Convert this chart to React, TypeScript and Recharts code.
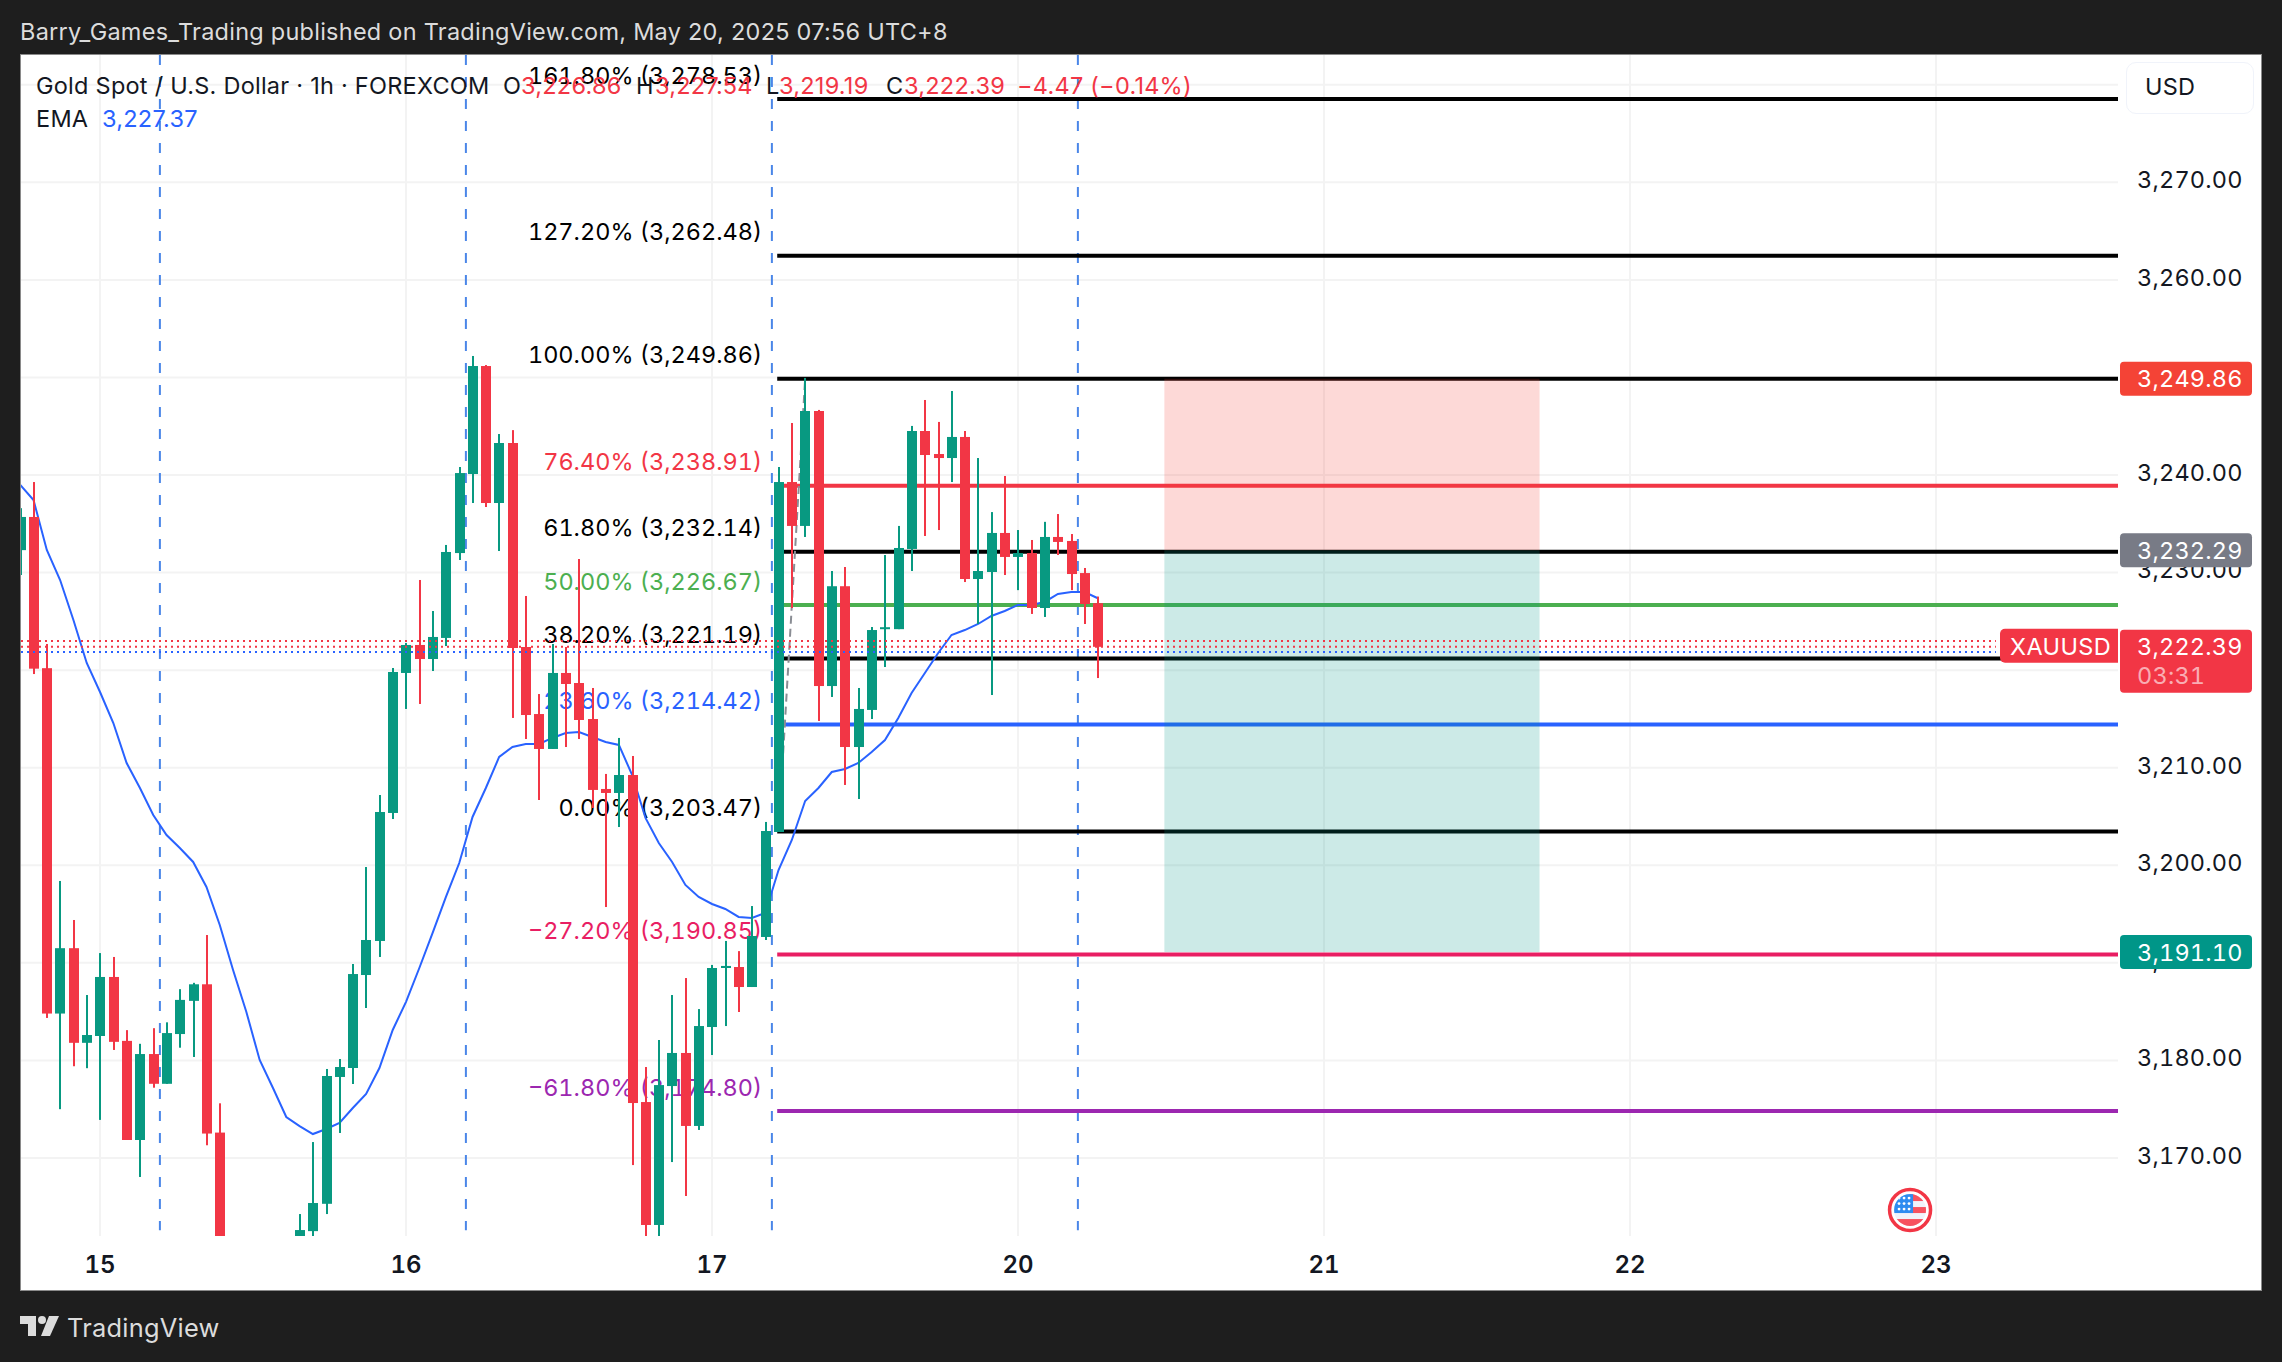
import {
  Bar,
  CartesianGrid,
  ComposedChart,
  Line,
  ReferenceArea,
  ReferenceDot,
  ReferenceLine,
  XAxis,
  YAxis,
} from "recharts";

const FONT = "Inter, 'Noto Sans', sans-serif";
const UP = "#089981";
const DOWN = "#f23645";
const BLUE = "#2962ff";
const STOP = "#f44336";
const TARGET = "#009688";

// hourly candles, index 0 is cut by the left edge; 16-20 sit below the visible range
const opens = [
  3232.3, 3235.7, 3220.2, 3184.8, 3191.5, 3181.8, 3182.5, 3188.55, 3182.0, 3171.84,
  3180.65, 3177.6, 3182.7, 3186.1, 3187.8, 3172.6, 3155, 3153, 3151, 3150,
  3154, 3161.5, 3162.5, 3165.3, 3178.3, 3179.22, 3188.75, 3192.24, 3205.36, 3219.71,
  3222.58, 3221.14, 3223.3, 3232.0, 3240.1, 3251.17, 3237.13, 3243.28, 3222.37, 3215.5,
  3211.92, 3219.71, 3218.68, 3214.99, 3207.82, 3207.41, 3209.25, 3175.73, 3163.13, 3177.37,
  3180.76, 3173.28, 3183.42, 3189.47, 3189.57, 3187.52, 3192.65, 3203.41, 3239.28, 3234.78,
  3246.56, 3218.37, 3228.6, 3212.12, 3215.92, 3224.2, 3224.2, 3232.42, 3244.51, 3242.15,
  3241.74, 3243.9, 3229.34, 3230.06, 3234.06, 3231.6, 3232.0, 3226.37, 3233.65, 3233.24,
  3229.95, 3226.86,
];
const highs = [
  3236.6, 3239.28, 3222.68, 3198.39, 3194.39, 3186.7, 3191.0, 3190.6, 3183.1, 3181.7,
  3183.3, 3183.9, 3187.3, 3187.95, 3192.85, 3175.6, 3158, 3157, 3156, 3155,
  3159, 3164.25, 3171.63, 3179.12, 3180.14, 3189.88, 3199.82, 3207.2, 3220.22, 3222.78,
  3229.24, 3226.06, 3232.83, 3240.82, 3252.2, 3251.27, 3244.2, 3244.6, 3227.6, 3217.55,
  3222.68, 3222.37, 3231.39, 3218.17, 3209.36, 3213.05, 3211.2, 3179.32, 3182.09, 3186.7,
  3188.44, 3185.26, 3189.78, 3192.24, 3191.2, 3195.82, 3204.44, 3240.82, 3245.33, 3249.95,
  3246.67, 3230.16, 3230.57, 3218.17, 3224.42, 3231.8, 3234.78, 3245.03, 3247.69, 3245.44,
  3248.61, 3244.51, 3241.74, 3236.2, 3239.9, 3234.36, 3233.34, 3235.2, 3236.0, 3233.95,
  3230.47, 3227.54,
];
const lows = [
  3229.75, 3219.6, 3184.35, 3175.0, 3179.4, 3179.2, 3173.9, 3181.07, 3171.84, 3168.05,
  3177.2, 3177.6, 3181.3, 3180.35, 3171.3, 3153, 3151, 3149, 3147, 3148,
  3152, 3160, 3161.5, 3164.25, 3172.56, 3177.58, 3185.37, 3190.6, 3204.74, 3216.02,
  3216.53, 3219.91, 3222.47, 3231.29, 3237.13, 3236.72, 3232.21, 3215.1, 3212.94, 3206.69,
  3211.92, 3212.12, 3212.94, 3205.87, 3195.72, 3203.92, 3169.27, 3161.5, 3161.5, 3169.58,
  3166.1, 3172.87, 3180.55, 3183.52, 3184.96, 3187.52, 3192.34, 3203.41, 3226.37, 3233.65,
  3214.79, 3217.25, 3208.23, 3206.79, 3214.99, 3220.32, 3224.2, 3230.16, 3233.75, 3234.36,
  3239.28, 3229.03, 3224.73, 3217.45, 3229.75, 3228.2, 3225.76, 3225.45, 3231.8, 3228.2,
  3224.73, 3219.19,
];
const closes = [
  3235.7, 3220.15, 3184.8, 3191.5, 3181.8, 3182.6, 3188.55, 3181.9, 3171.84, 3180.65,
  3177.6, 3182.8, 3186.2, 3187.8, 3172.5, 3155, 3153, 3151, 3150, 3154,
  3158, 3162.61, 3165.38, 3178.4, 3179.32, 3188.85, 3192.34, 3205.46, 3219.81, 3222.58,
  3221.14, 3223.4, 3232.11, 3240.2, 3251.17, 3237.13, 3243.28, 3222.27, 3215.4, 3211.92,
  3219.71, 3218.58, 3214.89, 3207.72, 3207.41, 3209.25, 3175.63, 3163.13, 3177.47, 3180.76,
  3173.28, 3183.52, 3189.47, 3189.68, 3187.52, 3192.75, 3203.51, 3239.28, 3234.78, 3246.56,
  3218.37, 3228.6, 3212.12, 3216.02, 3224.11, 3224.4, 3232.52, 3244.51, 3242.05, 3241.74,
  3243.9, 3229.34, 3230.16, 3234.06, 3231.6, 3232.0, 3226.37, 3233.65, 3233.14, 3229.85,
  3226.78, 3222.39,
];
const emaValues = [
  3238.98, 3237.44, 3232.32, 3229.24, 3225.14, 3220.73, 3217.76, 3214.58, 3210.48, 3207.92,
  3205.15, 3203.1, 3201.77, 3200.34, 3197.77, 3193.88, 3189.27, 3184.96, 3180.04, 3177.17,
  3174.2, 3173.27, 3172.45, 3172.97, 3173.58, 3175.12, 3176.56, 3179.22, 3183.12, 3186.0,
  3189.47, 3193.06, 3196.75, 3200.23, 3204.95, 3207.92, 3211.1, 3212.12, 3212.43, 3212.43,
  3213.05, 3213.56, 3213.66, 3213.15, 3212.64, 3212.33, 3209.25, 3204.85, 3202.28, 3200.34,
  3197.98, 3196.75, 3196.03, 3195.52, 3194.7, 3194.6, 3195.11, 3199.51, 3202.59, 3206.59,
  3207.92, 3209.56, 3209.87, 3210.48, 3211.61, 3212.84, 3215.1, 3217.66, 3219.71, 3221.76,
  3223.6, 3224.11, 3224.73, 3225.55, 3226.06, 3226.68, 3226.68, 3226.99, 3227.81, 3228.01,
  3228.01, 3227.37,
];

const dayTicks = [6, 29, 52, 75, 98, 121, 144];
const dayLabels = ["15", "16", "17", "20", "21", "22", "23"];
const priceTicks = [3170, 3180, 3190, 3200, 3210, 3220, 3230, 3240, 3250, 3260, 3270, 3280];
const sessionBreaks = [10.5, 33.5, 56.5, 79.5];

const fibLevels = [161.8, 127.2, 100, 76.4, 61.8, 50, 38.2, 23.6, 0, -27.2, -61.8];
const fibPrices = [
  3278.53, 3262.48, 3249.86, 3238.91, 3232.14, 3226.67, 3221.19, 3214.42, 3203.47, 3190.85,
  3174.8,
];
const fibColors = [
  "#000000", "#000000", "#000000", "#f23645", "#000000", "#4caf50", "#000000", "#2962ff",
  "#000000", "#e91e63", "#9c27b0",
];

const X_MIN = 0.06;
const X_MAX = 157.68;
const Y_MIN = 3162;
const Y_MAX = 3283.05;
const FIB_START = 56.9;
const DOTTED_END = 148.5;

const candles = opens.map((open, i) => ({
  i,
  open,
  high: highs[i],
  low: lows[i],
  close: closes[i],
  ema: emaValues[i],
}));

const money = (v: number) =>
  v.toLocaleString("en-US", { minimumFractionDigits: 2, maximumFractionDigits: 2 });
const dayLabel = (v: number) => dayLabels[dayTicks.indexOf(v)] ?? "";
const fibText = (level: number, price: number) =>
  `${level < 0 ? "\u2212" : ""}${Math.abs(level).toFixed(2)}% (${money(price)})`;

function Candle(props: any) {
  const { x, y, width, height, payload } = props;
  const { open, close, high, low } = payload;
  const color = close >= open ? UP : DOWN;
  const perUnit = height / (high - low);
  const bodyTop = y + (high - Math.max(open, close)) * perUnit;
  const bodyHeight = Math.max(2, Math.abs(open - close) * perUnit);
  const mid = Math.round(x + width / 2);
  return (
    <g>
      <rect x={mid - 1} y={y} width={2} height={height} fill={color} />
      <rect x={mid - 5} y={bodyTop} width={10} height={bodyHeight} fill={color} />
    </g>
  );
}

function FibShape({ x1, y1, x2, y2, color, text }: any) {
  return (
    <g>
      <line x1={x1} y1={y1} x2={x2} y2={y2} stroke={color} strokeWidth={4} />
      <text
        x={x1 - 15}
        y={y1 - 24}
        textAnchor="end"
        dominantBaseline="central"
        fill={color}
        fontSize={23.5}
        fontFamily={FONT}
      >
        {text}
      </text>
    </g>
  );
}

function PriceTag({ cx, cy, color, label, extra }: any) {
  const h = extra ? 63 : 34;
  return (
    <g fontFamily={FONT} fontSize={23.5} letterSpacing={0.2}>
      <rect x={cx + 2} y={cy - 17} width={132} height={h} rx={4} fill={color} />
      <text x={cx + 19} y={cy} dominantBaseline="central" fill="#ffffff">
        {label}
      </text>
      {extra && (
        <text x={cx + 19} y={cy + 29} dominantBaseline="central" fill="#ffffff" fillOpacity={0.6}>
          {extra}
        </text>
      )}
    </g>
  );
}

function SymbolTag({ cx, cy }: any) {
  return (
    <g fontFamily={FONT} fontSize={23.5} letterSpacing={0.4}>
      <path
        d={`M${cx} ${cy - 18}h-113a5 5 0 0 0 -5 5v24a5 5 0 0 0 5 5h113z`}
        fill={DOWN}
      />
      <text x={cx - 108} y={cy} dominantBaseline="central" fill="#ffffff">
        XAUUSD
      </text>
    </g>
  );
}

function FlagDot({ cx, cy }: any) {
  const stars: [number, number][] = [];
  for (const dy of [-12, -6.5, -1]) for (const dx of [-11, -6, -1]) stars.push([dx, dy]);
  return (
    <g>
      <circle cx={cx} cy={cy} r={20.5} fill="#ffffff" stroke={DOWN} strokeWidth={3.5} />
      <clipPath id="flag-clip">
        <circle cx={cx} cy={cy} r={16} />
      </clipPath>
      <g clipPath="url(#flag-clip)">
        <rect x={cx - 16} y={cy - 16} width={32} height={32} fill="#f0f3fa" />
        <rect x={cx} y={cy - 16} width={16} height={7} fill="#f7525f" />
        <rect x={cx} y={cy - 3} width={16} height={6} fill="#f7525f" />
        <rect x={cx - 16} y={cy + 9} width={32} height={7} fill="#f7525f" />
        <rect x={cx - 16} y={cy - 16} width={19} height={19} fill="#2e8cf0" />
        {stars.map(([dx, dy], k) => (
          <circle key={k} cx={cx + dx} cy={cy + dy} r={1.4} fill="#ffffff" />
        ))}
      </g>
    </g>
  );
}

const abs = (left: number, top: number, color: string, size = 23.5): React.CSSProperties => ({
  position: "absolute",
  left,
  top,
  color,
  fontSize: size,
  fontFamily: FONT,
  lineHeight: "32px",
  letterSpacing: 0.25,
  whiteSpace: "nowrap",
});

export default function App() {
  return (
    <div
      style={{
        position: "absolute",
        left: 0,
        top: 0,
        width: 2282,
        height: 1362,
        overflow: "hidden",
        background: "#1e1e1e",
      }}
    >
      <div style={abs(20, 16, "#dcdcdc")}>
        Barry_Games_Trading published on TradingView.com, May 20, 2025 07:56 UTC+8
      </div>
      <div
        style={{
          position: "absolute",
          left: 20,
          top: 54,
          width: 2242,
          height: 1237,
          boxSizing: "border-box",
          background: "#ffffff",
          border: "1px solid #8a8a8a",
        }}
      />
      <div style={{ position: "absolute", left: 0, top: 0, fontVariantNumeric: "tabular-nums" }}>
        <ComposedChart
          width={2282}
          height={1362}
          data={candles}
          margin={{ top: 55, right: 20, bottom: 72, left: 21 }}
        >
          <CartesianGrid stroke="#f3f3f3" strokeWidth={2} syncWithTicks />
          <XAxis
            dataKey="i"
            type="number"
            scale="linear"
            domain={[X_MIN, X_MAX]}
            allowDataOverflow
            ticks={dayTicks}
            interval={0}
            tickFormatter={dayLabel}
            axisLine={false}
            tickLine={false}
            tickSize={0}
            tickMargin={20}
            height={54}
            tick={{ fill: "#131722", fontSize: 24, fontWeight: 600, fontFamily: FONT }}
          />
          <YAxis
            orientation="right"
            type="number"
            domain={[Y_MIN, Y_MAX]}
            allowDataOverflow
            ticks={priceTicks}
            interval={0}
            tickFormatter={money}
            axisLine={false}
            tickLine={false}
            tickSize={0}
            tickMargin={19}
            width={144}
            tick={{
              fill: "#131722",
              fontSize: 23.5,
              fontFamily: FONT,
              letterSpacing: 0.2,
              dy: -2.5,
            }}
          />
          {sessionBreaks.map((b) => (
            <ReferenceLine
              key={b}
              segment={[
                { x: b, y: Y_MAX },
                { x: b, y: 3162.6 },
              ]}
              stroke="#4a86e8"
              strokeWidth={2}
              strokeDasharray="10 12"
              zIndex={100}
            />
          ))}
          {fibPrices.map((price, k) => (
            <ReferenceLine
              key={price}
              segment={[
                { x: FIB_START, y: price },
                { x: X_MAX, y: price },
              ]}
              zIndex={110}
              shape={(p: any) => (
                <FibShape {...p} color={fibColors[k]} text={fibText(fibLevels[k], price)} />
              )}
            />
          ))}
          <ReferenceLine
            segment={[
              { x: 57, y: 3203.47 },
              { x: 59, y: 3249.86 },
            ]}
            stroke="#8a8d94"
            strokeWidth={2}
            strokeDasharray="8 5"
            zIndex={115}
          />
          <ReferenceArea
            x1={86}
            x2={114.2}
            y1={3249.86}
            y2={3232.29}
            fill={STOP}
            fillOpacity={0.2}
            stroke="none"
            zIndex={120}
          />
          <ReferenceArea
            x1={86}
            x2={114.2}
            y1={3232.29}
            y2={3191.1}
            fill={TARGET}
            fillOpacity={0.2}
            stroke="none"
            zIndex={120}
          />
          <Line
            dataKey="ema"
            type="linear"
            stroke={BLUE}
            strokeWidth={2}
            dot={false}
            activeDot={false}
            isAnimationActive={false}
            zIndex={130}
          />
          <Bar
            dataKey={(d: any) => [d.low, d.high]}
            barSize={10}
            shape={Candle}
            isAnimationActive={false}
            zIndex={140}
          />
          {[
            { y: 3222.99, c: DOWN },
            { y: 3222.39, c: DOWN },
            { y: 3221.86, c: BLUE },
          ].map((d) => (
            <ReferenceLine
              key={d.y}
              segment={[
                { x: X_MIN, y: d.y },
                { x: DOTTED_END, y: d.y },
              ]}
              stroke={d.c}
              strokeWidth={2}
              strokeDasharray="2 4"
              zIndex={150}
            />
          ))}
          <ReferenceDot
            x={142.05}
            y={3164.66}
            r={0}
            zIndex={160}
            shape={(p: any) => <FlagDot {...p} />}
          />
          <ReferenceDot
            x={X_MAX}
            y={3249.86}
            r={0}
            zIndex={2100}
            shape={(p: any) => <PriceTag {...p} color={STOP} label="3,249.86" />}
          />
          <ReferenceDot
            x={X_MAX}
            y={3232.29}
            r={0}
            zIndex={2100}
            shape={(p: any) => <PriceTag {...p} color="#787b86" label="3,232.29" />}
          />
          <ReferenceDot
            x={X_MAX}
            y={3191.1}
            r={0}
            zIndex={2100}
            shape={(p: any) => <PriceTag {...p} color={TARGET} label="3,191.10" />}
          />
          <ReferenceDot
            x={X_MAX}
            y={3222.39}
            r={0}
            zIndex={2100}
            shape={(p: any) => (
              <g>
                <PriceTag {...p} color={DOWN} label="3,222.39" extra="03:31" />
                <SymbolTag {...p} />
              </g>
            )}
          />
        </ComposedChart>
      </div>

      <div style={abs(36, 70, "#131722")}>Gold Spot / U.S. Dollar · 1h · FOREXCOM</div>
      <div style={abs(503, 70, "#131722")}>O</div>
      <div style={abs(521, 70, DOWN)}>3,226.86</div>
      <div style={abs(636, 70, "#131722")}>H</div>
      <div style={abs(655, 70, DOWN)}>3,227.54</div>
      <div style={abs(766, 70, "#131722")}>L</div>
      <div style={abs(779, 70, DOWN)}>3,219.19</div>
      <div style={abs(886, 70, "#131722")}>C</div>
      <div style={abs(904, 70, DOWN)}>3,222.39</div>
      <div style={abs(1017, 70, DOWN)}>{"\u22124.47 (\u22120.14%)"}</div>
      <div style={abs(36, 103, "#131722")}>EMA</div>
      <div style={abs(102, 103, BLUE)}>3,227.37</div>

      <div
        style={{
          position: "absolute",
          left: 2126,
          top: 62,
          width: 128,
          height: 52,
          boxSizing: "border-box",
          background: "#ffffff",
          border: "1px solid #f0f3fa",
          borderRadius: 10,
        }}
      />
      <div style={abs(2145, 71, "#131722")}>USD</div>

      <svg
        style={{ position: "absolute", left: 20, top: 1314 }}
        width={42}
        height={24}
        viewBox="0 0 42 24"
      >
        <path d="M0 2h16v20h-8v-12h-8z" fill="#dcdcdc" />
        <circle cx={22} cy={6} r={4} fill="#dcdcdc" />
        <path d="M29 2h10l-9 20h-9z" fill="#dcdcdc" />
      </svg>
      <div style={abs(67, 1312, "#dcdcdc", 25.4)}>TradingView</div>
    </div>
  );
}
